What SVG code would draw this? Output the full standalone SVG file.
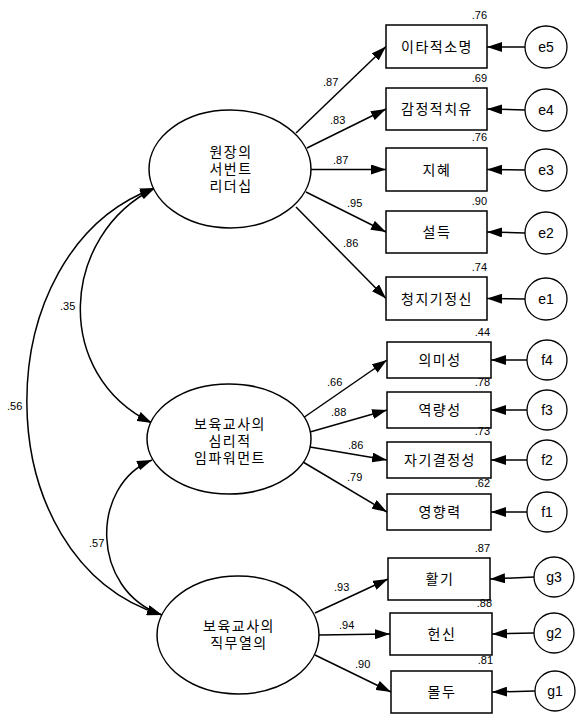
<svg xmlns="http://www.w3.org/2000/svg" width="585" height="724" viewBox="0 0 585 724">
<style>
.bg{fill:#fff}
.box{fill:#fff;stroke:#000;stroke-width:1.5}
.lat{fill:#fff;stroke:#000;stroke-width:1.5}
.err{fill:#fff;stroke:#000;stroke-width:1.3}
.kt{font-family:"Noto Sans CJK KR","Liberation Sans",sans-serif;font-size:14px;letter-spacing:1.5px;fill:#000;text-anchor:middle}
.et{font-family:"Liberation Sans",Arial,sans-serif;font-size:14px;fill:#000;text-anchor:middle}
.num{font-family:"Liberation Sans",Arial,sans-serif;font-size:11px;fill:#000}
.r{text-anchor:end}
.con path{fill:none;stroke:#000;stroke-width:1.5;marker-end:url(#ah)}
.con path.cov{marker-start:url(#ah)}
</style>
<defs>
<marker id="ah" viewBox="0 0 15 10" refX="15" refY="5" markerWidth="15" markerHeight="10" markerUnits="userSpaceOnUse" orient="auto-start-reverse">
<path d="M0,0 L15,5 L0,10 z" fill="#000"/>
</marker>
</defs>
<rect class="bg" x="0" y="0" width="585" height="724"/>

<g id="connectors" class="con">
<path d="M296,133 L386,46.5"/>
<path d="M307,148 L386,109"/>
<path d="M311,169.5 L386,169.5"/>
<path d="M306,192 L386,232"/>
<path d="M296,207 L386,298.5"/>
<path d="M303,418 L387,360"/>
<path d="M310,432 L387,410"/>
<path d="M310,447 L387,460"/>
<path d="M303,462 L387,512"/>
<path d="M315,613 L388,579"/>
<path d="M319,635 L390,634"/>
<path d="M315,655 L391,692"/>
<path d="M525,47 L487,47"/>
<path d="M525,110 L487,109"/>
<path d="M525,170 L487,169.5"/>
<path d="M525,233 L487,232"/>
<path d="M525,299 L487,298.5"/>
<path d="M527,360 L491,360"/>
<path d="M527,410 L491,410"/>
<path d="M527,460 L491,460"/>
<path d="M527,512 L491,512"/>
<path d="M534,577 L490,579"/>
<path d="M534,633 L492,634"/>
<path d="M535,691 L492,692"/>
<path class="cov" d="M155,188 C60,235 52,375 152,423"/>
<path class="cov" d="M155,188 C-17,250 -17,560 162,615"/>
<path class="cov" d="M152,460 C90,485 90,590 162,615"/>
</g>

<g id="labels">
<text class="num" x="323" y="86">.87</text>
<text class="num" x="330" y="124">.83</text>
<text class="num" x="333" y="164">.87</text>
<text class="num" x="347" y="207">.95</text>
<text class="num" x="343" y="247">.86</text>
<text class="num" x="327" y="386">.66</text>
<text class="num" x="331" y="416">.88</text>
<text class="num" x="348" y="449">.86</text>
<text class="num" x="347" y="481">.79</text>
<text class="num" x="334" y="591">.93</text>
<text class="num" x="339" y="629">.94</text>
<text class="num" x="355" y="668">.90</text>
<text class="num" x="60" y="310">.35</text>
<text class="num" x="7" y="410">.56</text>
<text class="num" x="89" y="547">.57</text>
</g>

<g id="F1"><ellipse class="lat" cx="230" cy="169" rx="81" ry="59"/>
<text class="kt" x="231" y="157"><tspan x="231" y="157">원장의</tspan><tspan x="231" y="174">서번트</tspan><tspan x="231" y="191">리더십</tspan></text></g>
<g id="F2"><ellipse class="lat" cx="229" cy="439" rx="82" ry="55"/>
<text class="kt" x="230" y="429"><tspan x="230" y="429">보육교사의</tspan><tspan x="230" y="446">심리적</tspan><tspan x="230" y="463">임파워먼트</tspan></text></g>
<g id="F3"><ellipse class="lat" cx="238" cy="635" rx="81" ry="59"/>
<text class="kt" x="239" y="631"><tspan x="239" y="631">보육교사의</tspan><tspan x="239" y="648">직무열의</tspan></text></g>

<g id="v_e5"><rect class="box" x="386" y="25" width="101" height="43"/><text class="kt" x="437" y="51.5">이타적소명</text><text class="num r" x="487" y="19">.76</text></g>
<g id="v_e4"><rect class="box" x="386" y="88" width="101" height="42"/><text class="kt" x="437" y="114">감정적치유</text><text class="num r" x="487" y="82">.69</text></g>
<g id="v_e3"><rect class="box" x="386" y="148" width="101" height="43"/><text class="kt" x="437" y="174.5">지혜</text><text class="num r" x="487" y="141">.76</text></g>
<g id="v_e2"><rect class="box" x="386" y="211" width="101" height="42"/><text class="kt" x="437" y="237">설득</text><text class="num r" x="487" y="205">.90</text></g>
<g id="v_e1"><rect class="box" x="386" y="277" width="101" height="43"/><text class="kt" x="437" y="303.5">청지기정신</text><text class="num r" x="487" y="271">.74</text></g>

<g id="v_f4"><rect class="box" x="387" y="342" width="104" height="36"/><text class="kt" x="440" y="365">의미성</text><text class="num r" x="490" y="336">.44</text></g>
<g id="v_f3"><rect class="box" x="387" y="392" width="104" height="36"/><text class="kt" x="440" y="415">역량성</text><text class="num r" x="490" y="386">.78</text></g>
<g id="v_f2"><rect class="box" x="387" y="442" width="104" height="36"/><text class="kt" x="440" y="465">자기결정성</text><text class="num r" x="490" y="435">.73</text></g>
<g id="v_f1"><rect class="box" x="387" y="494" width="104" height="36"/><text class="kt" x="440" y="517">영향력</text><text class="num r" x="490" y="487">.62</text></g>

<g id="v_g3"><rect class="box" x="388" y="558" width="102" height="42"/><text class="kt" x="440" y="584">활기</text><text class="num r" x="490" y="552">.87</text></g>
<g id="v_g2"><rect class="box" x="390" y="613" width="102" height="42"/><text class="kt" x="442" y="639">헌신</text><text class="num r" x="492" y="607">.88</text></g>
<g id="v_g1"><rect class="box" x="391" y="671" width="101" height="42"/><text class="kt" x="442" y="697">몰두</text><text class="num r" x="493" y="664">.81</text></g>

<g id="e5"><circle class="err" cx="546" cy="47" r="21"/><text class="et" x="546" y="52">e5</text></g>
<g id="e4"><circle class="err" cx="546" cy="110" r="21"/><text class="et" x="546" y="115">e4</text></g>
<g id="e3"><circle class="err" cx="546" cy="170" r="21"/><text class="et" x="546" y="175">e3</text></g>
<g id="e2"><circle class="err" cx="546" cy="233" r="21"/><text class="et" x="546" y="238">e2</text></g>
<g id="e1"><circle class="err" cx="546" cy="299" r="21"/><text class="et" x="546" y="304">e1</text></g>
<g id="f4"><circle class="err" cx="547" cy="360" r="20"/><text class="et" x="547" y="365">f4</text></g>
<g id="f3"><circle class="err" cx="547" cy="410" r="20"/><text class="et" x="547" y="415">f3</text></g>
<g id="f2"><circle class="err" cx="547" cy="460" r="20"/><text class="et" x="547" y="465">f2</text></g>
<g id="f1"><circle class="err" cx="547" cy="512" r="20"/><text class="et" x="547" y="517">f1</text></g>
<g id="g3"><circle class="err" cx="554" cy="577" r="20"/><text class="et" x="554" y="582">g3</text></g>
<g id="g2"><circle class="err" cx="554" cy="633" r="20"/><text class="et" x="554" y="638">g2</text></g>
<g id="g1"><circle class="err" cx="555" cy="691" r="20"/><text class="et" x="555" y="696">g1</text></g>
</svg>
